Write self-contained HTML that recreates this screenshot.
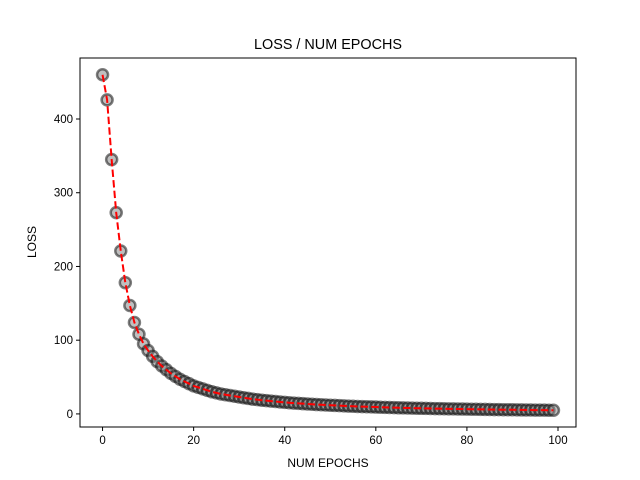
<!DOCTYPE html>
<html><head><meta charset="utf-8"><style>
body{margin:0;background:#fff}
svg{display:block;font-family:"Liberation Sans","DejaVu Sans",sans-serif}
</style></head><body>
<svg id="chart" width="640" height="480" viewBox="0 0 640 480" xmlns="http://www.w3.org/2000/svg">
<rect width="640" height="480" fill="#fff"/>
<text x="328" y="49" text-anchor="middle" font-size="14.4">LOSS / NUM EPOCHS</text>
<text x="328" y="467" text-anchor="middle" font-size="12">NUM EPOCHS</text>
<text x="0" y="0" transform="translate(36,242) rotate(-90)" text-anchor="middle" font-size="12">LOSS</text>
<g id="marks"></g>
<g id="axes"></g>
</svg>
<script>
const epochs = Array.from({length:100},(_, i)=>i);
const loss = [460,426,345,273,221,178,147,124,108,95,
86,78,71,65,60,55,51,47,44,41,
38,36,34,32,30,28.5,27,26,25,24,
23,22,21,20,19.3,18.6,18,17.4,16.8,16.2,
15.7,15.2,14.7,14.3,13.9,13.5,13.1,12.7,12.4,12.1,
11.8,11.5,11.2,10.9,10.6,10.4,10.1,9.9,9.7,9.5,
9.3,9.1,8.9,8.7,8.5,8.3,8.2,8.0,7.9,7.7,
7.6,7.5,7.3,7.2,7.1,7.0,6.9,6.8,6.7,6.6,
6.5,6.4,6.3,6.2,6.1,6.0,5.9,5.8,5.7,5.6,
5.6,5.5,5.4,5.3,5.3,5.2,5.1,5.1,5.0,5.0];
const xTicks = [0,20,40,60,80,100];
const yTicks = [0,100,200,300,400];

const L=80,R=576,T=58,B=427;
const xMin=-4.95,xMax=103.95;
const yMax=Math.max(...loss), yMin=Math.min(...loss);
const yPad=(yMax-yMin)*0.05;
const y0=yMin-yPad-5*0+ -(yMax-yMin)*0.0, y1=yMax+yPad;
const yLo=Math.min(y0,-17.6), yHi=Math.max(y1,481);
function xs(v){return L+(v-xMin)/(xMax-xMin)*(R-L);}
function ys(v){return B-(v-yLo)/(yHi-yLo)*(B-T);}
const NS="http://www.w3.org/2000/svg";
const marks=document.getElementById('marks'), axes=document.getElementById('axes');
function mk(tag,attrs,parent){const e=document.createElementNS(NS,tag);for(const k in attrs)e.setAttribute(k,attrs[k]);parent.appendChild(e);return e;}

loss.forEach((v,i)=>{
  const c=mk('circle',{cx:xs(epochs[i]),cy:ys(v),r:5.5,fill:'#808080','fill-opacity':0.5,stroke:'#000','stroke-opacity':0.5,'stroke-width':2.5},marks);
  
  
});
const line=mk('polyline',{points:loss.map((v,i)=>xs(epochs[i])+','+ys(v)).join(' '),fill:'none',stroke:'#ff0000','stroke-width':2,'stroke-dasharray':'7.4,3.2'},marks);



const frame=mk('rect',{x:L,y:T,width:R-L,height:B-T,fill:'none',stroke:'#000','stroke-width':1},axes);


xTicks.forEach(t=>{
  const x=xs(t);
  if(x>R)return;
  mk('line',{x1:x,x2:x,y1:B,y2:B+4,stroke:'#000'},axes);
  const tx=mk('text',{x:x,y:B+17,'text-anchor':'middle','font-size':11.5},axes);
  tx.textContent=t;
  
  
});
yTicks.forEach(t=>{
  const y=ys(t);
  mk('line',{x1:L-4,x2:L,y1:y,y2:y,stroke:'#000'},axes);
  const tx=mk('text',{x:L-7,y:y+4,'text-anchor':'end','font-size':11.5},axes);
  tx.textContent=t;
  
  
});
</script>
</body></html>
